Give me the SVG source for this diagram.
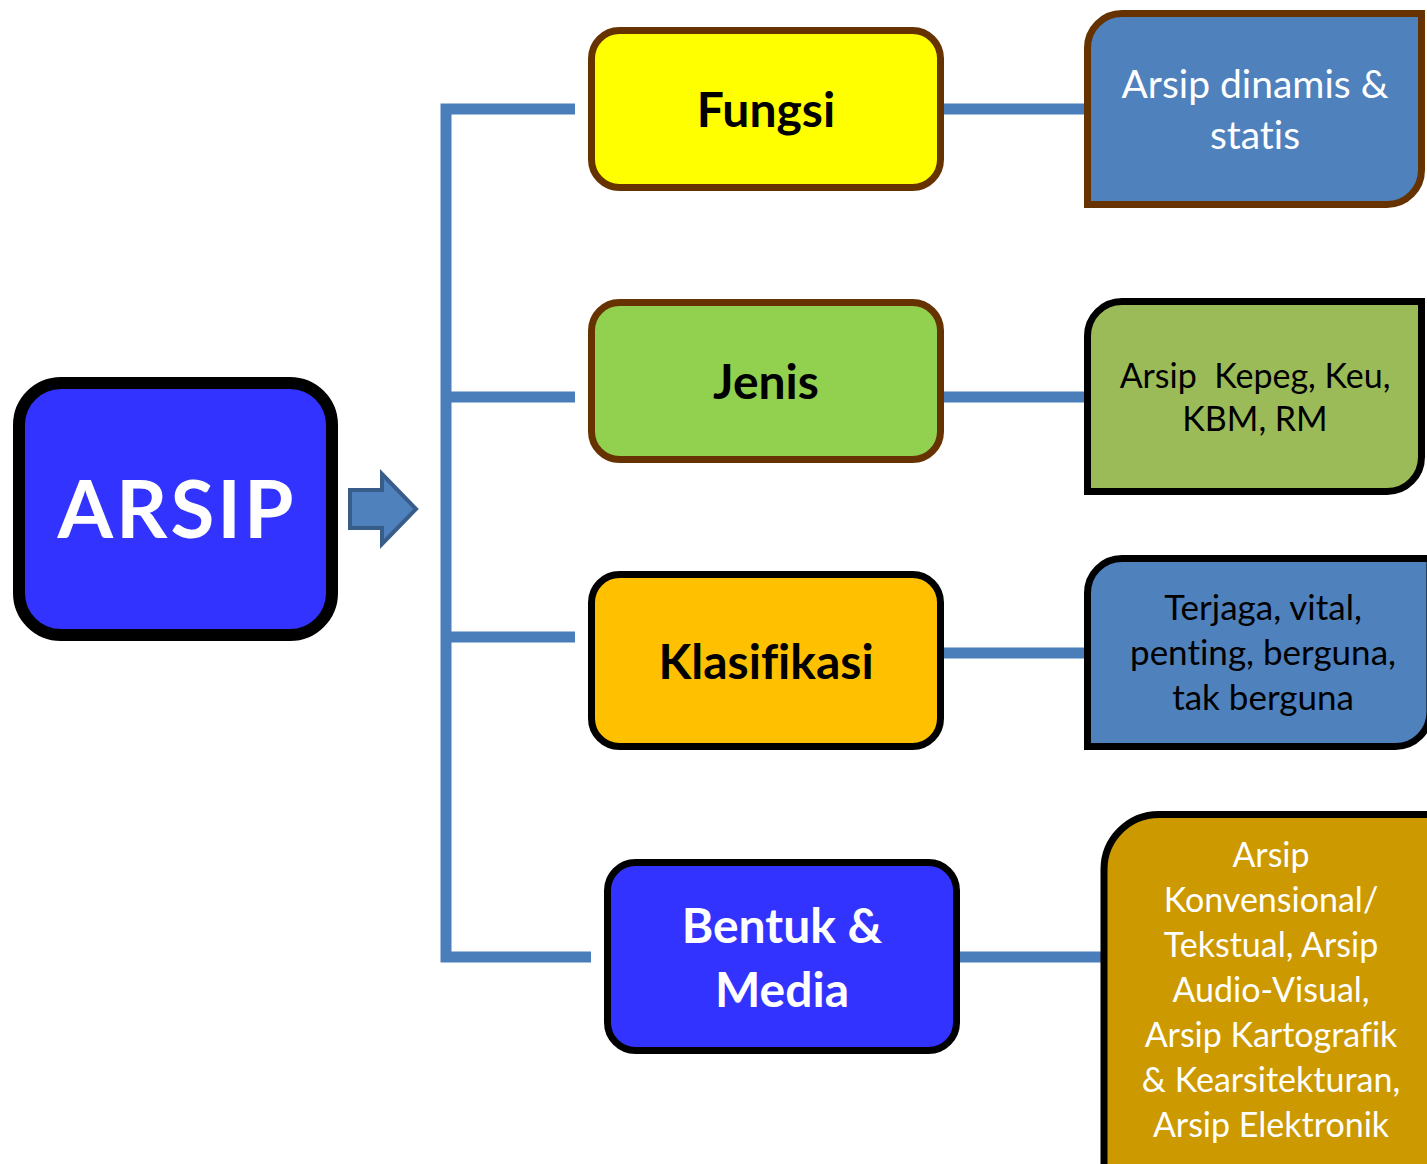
<svg xmlns="http://www.w3.org/2000/svg" width="1427" height="1164" viewBox="0 0 1427 1164">
<style>
text{font-variant-ligatures:none;font-feature-settings:"liga" 0,"clig" 0,"dlig" 0}
.h{font-family:Lato,"Noto Sans",sans-serif;font-weight:bold;text-anchor:middle}
.t{font-family:Lato,"Noto Sans",sans-serif;text-anchor:middle;font-size:34px}
.c{stroke:#4A7EBB;stroke-width:11;fill:none}
</style>
<rect width="1427" height="1164" fill="#fff"/>
<g id="connectors">
<polyline class="c" points="575,109 446,109 446,957 591,957"/>
<line class="c" x1="446" y1="397" x2="575" y2="397"/>
<line class="c" x1="446" y1="637" x2="575" y2="637"/>
<line class="c" x1="940" y1="109" x2="1086" y2="109"/>
<line class="c" x1="940" y1="397" x2="1086" y2="397"/>
<line class="c" x1="940" y1="653" x2="1086" y2="653"/>
<line class="c" x1="956" y1="957" x2="1102" y2="957"/>
<path d="M350,490 H382 V474 L416,509 L382,544 V528 H350 Z" fill="#4F81BD" stroke="#385D8A" stroke-width="4"/>
</g>
<g id="arsip">
<rect x="19" y="383" width="313" height="252" rx="42" fill="#3333FF" stroke="#000" stroke-width="12"/>
<text class="h" x="177" y="538" font-size="80" letter-spacing="3" fill="#fff">ARSIP</text>
</g>
<g id="fungsi">
<rect x="591.5" y="30.5" width="349" height="157" rx="28" fill="#FFFF00" stroke="#663300" stroke-width="7"/>
<text class="h" x="766" y="127" font-size="48" fill="#000">Fungsi</text>
</g>
<g id="jenis">
<rect x="591.5" y="302.5" width="349" height="157" rx="28" fill="#92D050" stroke="#663300" stroke-width="7"/>
<text class="h" x="766" y="399" font-size="48" fill="#000">Jenis</text>
</g>
<g id="klasifikasi">
<rect x="591.5" y="574.5" width="349" height="172" rx="28" fill="#FFC000" stroke="#000" stroke-width="7"/>
<text class="h" x="766" y="679" font-size="48" fill="#000">Klasifikasi</text>
</g>
<g id="bentuk">
<rect x="607.5" y="862.5" width="349" height="188" rx="28" fill="#3333FF" stroke="#000" stroke-width="7"/>
<text class="h" x="782" y="943" font-size="48" fill="#fff">Bentuk &amp;</text>
<text class="h" x="782" y="1007" font-size="48" fill="#fff">Media</text>
</g>
<g id="fungsi-detail">
<path d="M1087.5,204.5 V48 A34.5,34.5 0 0 1 1122,13.5 H1421.5 V170 A34.5,34.5 0 0 1 1387,204.5 Z" fill="#4F81BD" stroke="#663300" stroke-width="7"/>
<text class="t" x="1255" y="98" fill="#fff" style="font-size:39px">Arsip dinamis &amp;</text>
<text class="t" x="1255" y="149" fill="#fff" style="font-size:39px">statis</text>
</g>
<g id="jenis-detail">
<path d="M1087.5,491.5 V336 A34.5,34.5 0 0 1 1122,301.5 H1421.5 V457 A34.5,34.5 0 0 1 1387,491.5 Z" fill="#9BBB59" stroke="#000" stroke-width="7"/>
<text class="t" x="1255" y="388" fill="#000" xml:space="preserve">Arsip  Kepeg, Keu,</text>
<text class="t" x="1255" y="431" fill="#000">KBM, RM</text>
</g>
<g id="klasifikasi-detail">
<path d="M1087.5,746.5 V593 A34.5,34.5 0 0 1 1122,558.5 H1430 V712 A34.5,34.5 0 0 1 1395.5,746.5 Z" fill="#4F81BD" stroke="#000" stroke-width="7"/>
<text class="t" x="1263" y="620" fill="#000" style="font-size:35px">Terjaga, vital,</text>
<text class="t" x="1263" y="665" fill="#000" style="font-size:35px">penting, berguna,</text>
<text class="t" x="1263" y="710" fill="#000" style="font-size:35px">tak berguna</text>
</g>
<g id="bentuk-detail">
<path d="M1104,1170 V870 A55,55 0 0 1 1159,814.5 H1435 V1170 Z" fill="#CC9900" stroke="#000" stroke-width="7"/>
<text class="t" x="1271" y="867" fill="#fff">Arsip</text>
<text class="t" x="1271" y="912" fill="#fff">Konvensional/</text>
<text class="t" x="1271" y="957" fill="#fff">Tekstual, Arsip</text>
<text class="t" x="1271" y="1002" fill="#fff">Audio-Visual,</text>
<text class="t" x="1271" y="1047" fill="#fff">Arsip Kartografik</text>
<text class="t" x="1271" y="1092" fill="#fff">&amp; Kearsitekturan,</text>
<text class="t" x="1271" y="1137" fill="#fff">Arsip Elektronik</text>
</g>
</svg>
